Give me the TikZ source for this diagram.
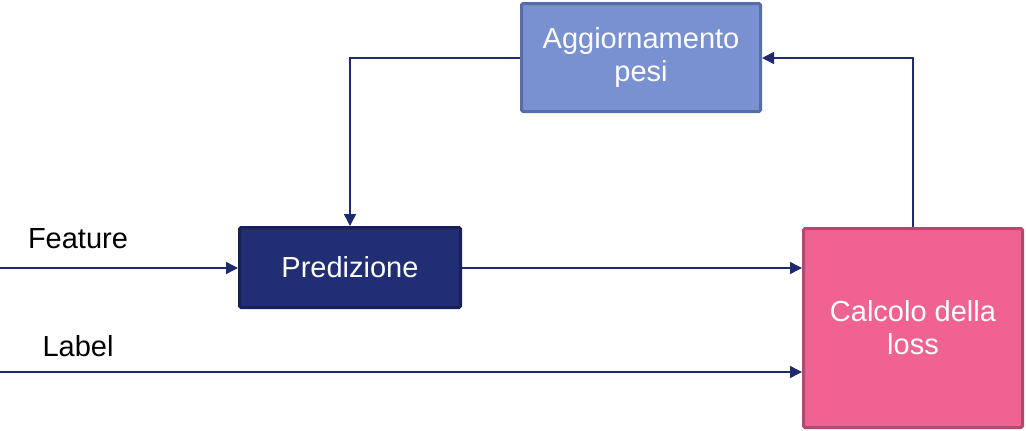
\documentclass[tikz,border=0pt]{standalone}
\usepackage{fontspec}
\setmainfont{Liberation Sans}
\usetikzlibrary{arrows.meta}

\definecolor{navy}{HTML}{1F2A70}
\definecolor{predfill}{HTML}{222E73}
\definecolor{predline}{HTML}{18205A}
\definecolor{aggfill}{HTML}{7991D0}
\definecolor{aggline}{HTML}{586DA6}
\definecolor{lossfill}{HTML}{EF6291}
\definecolor{lossline}{HTML}{B04A72}

\tikzset{
  blocco/.style={draw, line width=3pt, rounded corners=1.5pt, text=white,
    font=\fontsize{29}{33}\selectfont, align=center, inner sep=0pt},
  freccia/.style={draw=navy, line width=1.5pt, -{Triangle[length=12pt,width=12pt]}},
  etichetta/.style={font=\fontsize{29}{33}\selectfont, text=black}
}

\begin{document}
\begin{tikzpicture}[x=1pt,y=-1pt]
	%% page size
	\useasboundingbox (0,0) rectangle (1026,431);

	%% the three blocks
	\node[blocco, fill=aggfill, draw=aggline, minimum width=239pt, minimum height=108pt]
	  (agg) at (641,57.5) {Aggiornamento\\pesi};
	\node[blocco, fill=predfill, draw=predline, minimum width=221pt, minimum height=80pt]
	  (pred) at (350,267.5) {Predizione};
	\node[blocco, fill=lossfill, draw=lossline, minimum width=219pt, minimum height=199pt]
	  (loss) at (913,328) {Calcolo della\\loss};

	%% free ends on the left
	\coordinate (fin) at (0,268);
	\coordinate (lin) at (0,372);

	% corner points of the feedback loop
	\coordinate (k1) at (913,58);
	\coordinate (k2) at (350,58);

	%% inputs
	\draw[freccia] (fin) -- (pred.west |- fin);
	\draw[freccia] (lin) -- (loss.west |- lin);
	\node[etichetta] (tfeat) at (78,239) {Feature};
	\node[etichetta] (tlab) at (78,346) {Label};

	%% prediction into loss
	\draw[freccia] (pred.east |- fin) -- (loss.west |- fin);

	%% loop back through the weight update
	\draw[freccia] (loss.north) -- (k1) -- (agg.east |- k1);
	\draw[freccia] (agg.west |- k2) -- (k2) -- (pred.north);
\end{tikzpicture}
\end{document}
